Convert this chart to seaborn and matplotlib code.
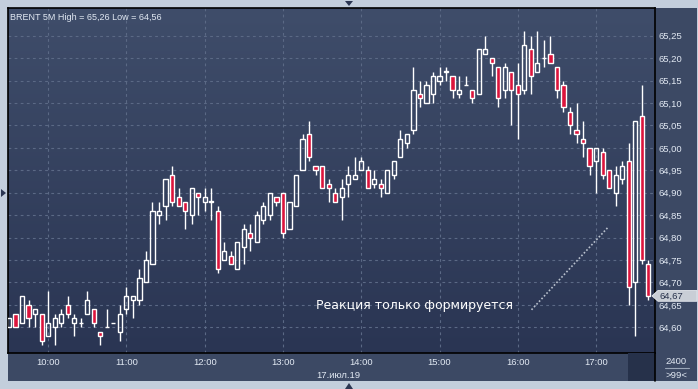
import numpy as np
import pandas as pd
import matplotlib
matplotlib.use("Agg")
import matplotlib.pyplot as plt
import seaborn as sns
from matplotlib.patches import Rectangle, Polygon
from matplotlib.lines import Line2D
from matplotlib.colors import LinearSegmentedColormap
import matplotlib.transforms as mtransforms

# ---------------- data (BRENT 5M, 17 Jul 2019, 09:30 .. 17:40) ----------------
opens = [64.60, 64.63, 64.61, 64.65, 64.63, 64.63, 64.58, 64.60, 64.61, 64.65,
         64.61, 64.61, 64.63, 64.64, 64.59, 64.60, 64.61, 64.59, 64.64, 64.66,
         64.66, 64.70, 64.74, 64.85, 64.87, 64.94, 64.89, 64.88, 64.85, 64.90,
         64.88, 64.88, 64.86, 64.75, 64.76, 64.73, 64.78, 64.81, 64.79, 64.84,
         64.85, 64.89, 64.90, 64.82, 64.87, 64.95, 65.03, 64.96, 64.96, 64.92,
         64.90, 64.89, 64.92, 64.93, 64.95, 64.95, 64.92, 64.92, 64.90, 64.94,
         64.98, 65.01, 65.04, 65.12, 65.10, 65.12, 65.15, 65.17, 65.16, 65.12,
         65.14, 65.13, 65.12, 65.21, 65.20, 65.18, 65.13, 65.17, 65.14, 65.13,
         65.22, 65.17, 65.20, 65.21, 65.18, 65.14, 65.08, 65.04, 65.02, 65.00,
         64.97, 64.99, 64.95, 64.90, 64.93, 64.97, 64.70, 65.07, 64.74]
highs = [64.62, 64.63, 64.67, 64.66, 64.64, 64.63, 64.68, 64.63, 64.64, 64.67,
         64.63, 64.62, 64.68, 64.64, 64.59, 64.64, 64.61, 64.65, 64.69, 64.67,
         64.73, 64.77, 64.88, 64.88, 64.93, 64.96, 64.91, 64.88, 64.91, 64.90,
         64.91, 64.91, 64.87, 64.79, 64.77, 64.79, 64.83, 64.83, 64.86, 64.88,
         64.90, 64.89, 64.90, 64.88, 64.94, 65.03, 65.06, 64.96, 64.96, 64.93,
         64.91, 64.93, 64.96, 64.98, 64.98, 64.96, 64.95, 64.93, 64.95, 64.97,
         65.04, 65.03, 65.18, 65.15, 65.15, 65.17, 65.18, 65.18, 65.16, 65.16,
         65.16, 65.13, 65.22, 65.25, 65.20, 65.18, 65.19, 65.17, 65.19, 65.26,
         65.25, 65.26, 65.24, 65.25, 65.18, 65.15, 65.09, 65.10, 65.06, 65.00,
         65.00, 65.00, 64.95, 64.96, 64.97, 65.01, 65.06, 65.14, 64.75]
lows = [64.60, 64.60, 64.61, 64.60, 64.60, 64.56, 64.58, 64.56, 64.60, 64.62,
        64.58, 64.60, 64.63, 64.60, 64.56, 64.60, 64.61, 64.57, 64.63, 64.62,
        64.65, 64.70, 64.74, 64.83, 64.84, 64.87, 64.87, 64.82, 64.83, 64.85,
        64.86, 64.84, 64.72, 64.75, 64.74, 64.73, 64.74, 64.77, 64.79, 64.83,
        64.84, 64.87, 64.80, 64.82, 64.87, 64.95, 64.97, 64.94, 64.91, 64.88,
        64.88, 64.84, 64.89, 64.93, 64.95, 64.91, 64.91, 64.89, 64.90, 64.93,
        64.98, 65.00, 65.03, 65.09, 65.10, 65.10, 65.14, 65.15, 65.11, 65.11,
        65.14, 65.10, 65.12, 65.21, 65.16, 65.09, 65.11, 65.05, 65.02, 65.12,
        65.12, 65.17, 65.18, 65.19, 65.11, 65.08, 65.03, 65.01, 64.98, 64.94,
        64.90, 64.93, 64.91, 64.87, 64.92, 64.65, 64.58, 64.74, 64.66]
closes = [64.62, 64.60, 64.67, 64.62, 64.64, 64.57, 64.61, 64.62, 64.63, 64.63,
          64.62, 64.61, 64.66, 64.61, 64.58, 64.60, 64.61, 64.63, 64.67, 64.67,
          64.71, 64.75, 64.86, 64.86, 64.93, 64.88, 64.87, 64.86, 64.91, 64.89,
          64.89, 64.88, 64.73, 64.77, 64.74, 64.79, 64.82, 64.80, 64.85, 64.87,
          64.90, 64.88, 64.81, 64.88, 64.94, 65.02, 64.98, 64.95, 64.91, 64.91,
          64.88, 64.91, 64.94, 64.94, 64.97, 64.91, 64.93, 64.91, 64.95, 64.97,
          65.02, 65.03, 65.13, 65.11, 65.14, 65.16, 65.16, 65.17, 65.13, 65.13,
          65.14, 65.11, 65.22, 65.22, 65.19, 65.11, 65.18, 65.13, 65.12, 65.23,
          65.16, 65.19, 65.20, 65.19, 65.13, 65.09, 65.05, 65.03, 65.01, 64.96,
          65.00, 64.94, 64.91, 64.94, 64.96, 64.69, 65.06, 64.75, 64.67]

hour_labels = ["10:00", "11:00", "12:00", "13:00", "14:00", "15:00", "16:00", "17:00"]
price_ticks = [64.60, 64.65, 64.70, 64.75, 64.80, 64.85, 64.90, 64.95,
               65.00, 65.05, 65.10, 65.15, 65.20, 65.25]
title_text = "BRENT 5M High = 65,26 Low = 64,56"
note_text = "Реакция только формируется"
date_text = "17.июл.19"
last_price = 64.67
trend_x = [80.1, 91.9]
trend_y = [64.639, 64.824]

df = pd.DataFrame({"open": opens, "high": highs, "low": lows, "close": closes})
df["idx"] = np.arange(len(df))
df["up"] = df["close"] >= df["open"]
df["top"] = df[["open", "close"]].max(axis=1)
df["bot"] = df[["open", "close"]].min(axis=1)

# ---------------- style ----------------
sns.set_theme(style="dark")
plt.rcParams["font.family"] = ["Liberation Sans", "DejaVu Sans"]

W, H = 698, 389
fig = plt.figure(figsize=(W / 100, H / 100), dpi=100, facecolor="#c3cedc")

def fx(x):
    return x / W

def fy(y):
    return 1 - y / H

STRIP = "#3c4964"
TXT = "#e2e9f3"
RED = "#dc143c"
BOX = "#c9ced6"

# frame strips (right axis + bottom axis)
fig.add_artist(Rectangle((fx(8), fy(381)), fx(697) - fx(8), fy(8) - fy(381),
                         transform=fig.transFigure, facecolor=STRIP, edgecolor="none", zorder=0))
fig.add_artist(Rectangle((fx(628), fy(381)), fx(655) - fx(628), fy(353) - fy(381),
                         transform=fig.transFigure, facecolor="#26314a", edgecolor="none", zorder=1))

ax = fig.add_axes([fx(8), fy(353), fx(655) - fx(8), fy(8) - fy(353)])
ax.set_facecolor("#34415e")

# gradient background
cmap = LinearSegmentedColormap.from_list("bg", ["#2a3553", "#3f4d6a"])
grad = np.linspace(0, 1, 256).reshape(-1, 1)
ax.imshow(grad, extent=[0, 1, 0, 1], transform=ax.transAxes, cmap=cmap,
          aspect="auto", origin="lower", zorder=0)

# grid
hour_pos = [6 + 12 * k for k in range(len(hour_labels))]
for p in price_ticks:
    ax.axhline(p, color="#5b6985", lw=0.8, ls=(0, (2.5, 3)), zorder=1)
for h in hour_pos:
    ax.axvline(h, color="#5b6985", lw=0.8, ls=(0, (2.5, 3)), zorder=1)

# wicks
ax.vlines(df["idx"], df["top"], df["high"], color="white", lw=1.0, zorder=3)
ax.vlines(df["idx"], df["low"], df["bot"], color="white", lw=1.0, zorder=3)

# bodies
heights = (df["top"] - df["bot"]).clip(lower=0.0004)
faces = [("none" if u else RED) for u in df["up"]]
ax.bar(df["idx"], heights, bottom=df["bot"], width=0.64, color=faces,
       edgecolor="white", linewidth=1.0, zorder=4)

# trend note
sns.lineplot(x=trend_x, y=trend_y, ax=ax, color="#b8c0cd", lw=1.2,
             linestyle=(0, (1, 1.2)), zorder=5)
ax.text(47.1, 64.648, note_text, color="white", fontsize=9,
        family=["DejaVu Sans"], va="center", ha="left", zorder=6)

ax.set_xlim(-0.15, 99.03)
ax.set_ylim(64.5427, 65.3117)

ax.set_xticks(hour_pos)
ax.set_xticklabels(hour_labels)
ax.set_yticks(price_ticks)
ax.set_yticklabels([f"{p:.2f}".replace(".", ",") for p in price_ticks])
ax.yaxis.tick_right()
ax.tick_params(axis="y", length=0, pad=2.5, labelsize=6.8, labelcolor=TXT)
ax.tick_params(axis="x", length=0, pad=3.5, labelsize=6.8, labelcolor=TXT)
ax.grid(False)
for s in ax.spines.values():
    s.set_color("black")
    s.set_linewidth(1.2)
    s.set_visible(True)

ax.text(0.003, 0.985, title_text, transform=ax.transAxes, color=TXT,
        fontsize=6.5, va="top", ha="left", zorder=7)

# separator continuing into bottom strip
fig.add_artist(Line2D([fx(655), fx(655)], [fy(353), fy(381)], transform=fig.transFigure,
                      color="black", lw=1.2))
fig.text(fx(338), fy(375), date_text, color=TXT, fontsize=6.8, ha="center", va="center")
fig.text(fx(676), fy(362), "2400", color=TXT, fontsize=6.8, ha="center", va="center")
fig.add_artist(Line2D([fx(665), fx(689)], [fy(368), fy(368)], transform=fig.transFigure,
                      color="#9aa6b8", lw=0.8))
fig.text(fx(676), fy(375), ">99<", color=TXT, fontsize=6.8, ha="center", va="center")

# last price marker
blend = mtransforms.blended_transform_factory(fig.transFigure, ax.transData)
hh = 0.012
fig.add_artist(Polygon([[fx(652), last_price], [fx(658), last_price + hh],
                        [fx(697), last_price + hh], [fx(697), last_price - hh],
                        [fx(658), last_price - hh]], closed=True,
                       transform=blend, facecolor=BOX, edgecolor="#e8ebf0", lw=0.6, zorder=10))
fig.text(fx(659), 0, "64,67", transform=blend, color="#26304a", fontsize=6.8,
         ha="left", va="center", zorder=11)
fig.texts[-1].set_y(last_price)

# frame triangles
tri = "#2b3652"
fig.add_artist(Polygon([[fx(345), fy(1)], [fx(353), fy(1)], [fx(349), fy(6)]],
                       transform=fig.transFigure, facecolor=tri, edgecolor="none"))
fig.add_artist(Polygon([[fx(345), fy(389)], [fx(353), fy(389)], [fx(349), fy(383)]],
                       transform=fig.transFigure, facecolor=tri, edgecolor="none"))
fig.add_artist(Polygon([[fx(1), fy(189)], [fx(1), fy(197)], [fx(6), fy(193)]],
                       transform=fig.transFigure, facecolor=tri, edgecolor="none"))

fig.savefig("out.png", dpi=100, facecolor=fig.get_facecolor())
